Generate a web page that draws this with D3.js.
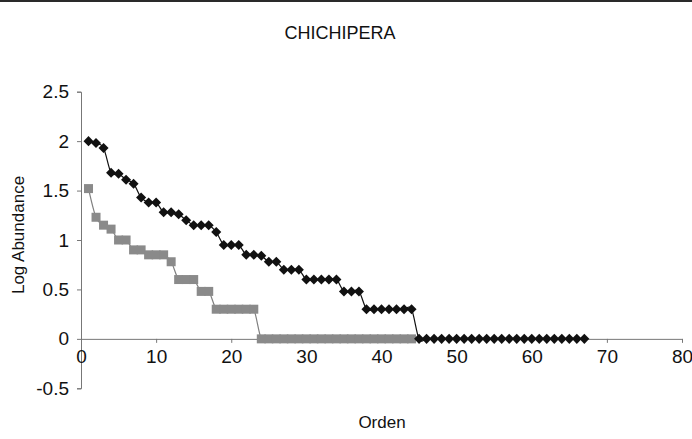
<!DOCTYPE html>
<html>
<head>
<meta charset="utf-8">
<script src="https://cdn.jsdelivr.net/npm/d3@7"></script>
<style>
  body { margin: 0; background: #fff; }
  svg text { font-family: "Liberation Sans", Arial, sans-serif; fill: #111; }
</style>
</head>
<body>
<svg id="chart" width="692" height="439"></svg>
<script>
// log abundance by rank - black diamonds (ranks 1..67)
var blackVals = [2.00, 1.98, 1.93, 1.68, 1.67, 1.61, 1.57, 1.43, 1.38, 1.38,
                 1.28, 1.28, 1.26, 1.20, 1.15, 1.15, 1.15, 1.08, 0.95, 0.95,
                 0.95, 0.85, 0.85, 0.84, 0.78, 0.78, 0.70, 0.70, 0.70, 0.60,
                 0.60, 0.60, 0.60, 0.60, 0.48, 0.48, 0.48, 0.30, 0.30, 0.30,
                 0.30, 0.30, 0.30, 0.30, 0, 0, 0, 0, 0, 0,
                 0, 0, 0, 0, 0, 0, 0, 0, 0, 0,
                 0, 0, 0, 0, 0, 0, 0];
// gray squares (ranks 1..44)
var grayVals = [1.52, 1.23, 1.15, 1.11, 1.00, 1.00, 0.90, 0.90, 0.85, 0.85,
                0.85, 0.78, 0.60, 0.60, 0.60, 0.48, 0.48, 0.30, 0.30, 0.30,
                0.30, 0.30, 0.30, 0, 0, 0, 0, 0, 0, 0,
                0, 0, 0, 0, 0, 0, 0, 0, 0, 0,
                0, 0, 0, 0];
var xTicks = [0, 10, 20, 30, 40, 50, 60, 70, 80];
var yTicks = [-0.5, 0, 0.5, 1, 1.5, 2, 2.5];

var svg = d3.select("#chart");

// top border
svg.append("rect").attr("x", 0).attr("y", 0).attr("width", 692).attr("height", 2).attr("fill", "#2a2a2a");

var x = d3.scaleLinear().domain([0, 80]).range([81, 682]);
var y = d3.scaleLinear().domain([-0.5, 2.5]).range([388.3, 91.7]);

svg.append("text").attr("x", 340).attr("y", 39).attr("text-anchor", "middle")
   .style("font-size", "18px").text("CHICHIPERA");

// y axis
var yAxis = svg.append("g").attr("transform", "translate(" + x(0) + ",0)")
   .call(d3.axisLeft(y).tickValues(yTicks).tickSize(4).tickPadding(8)
         .tickFormat(function(d){ return String(d); }));
yAxis.select(".domain").attr("stroke", "#777");
yAxis.selectAll(".tick line").attr("stroke", "#777");
yAxis.selectAll(".tick text").style("font-size", "19px").attr("fill", "#111");

// x axis crossing at y = 0
var xAxis = svg.append("g").attr("transform", "translate(0," + y(0) + ")")
   .call(d3.axisBottom(x).tickValues(xTicks).tickSize(4).tickPadding(7).tickSizeOuter(0));
xAxis.select(".domain").attr("stroke", "#777");
xAxis.selectAll(".tick line").attr("stroke", "#777");
xAxis.selectAll(".tick text").style("font-size", "19px").attr("fill", "#111");

svg.append("text").attr("transform", "translate(24," + 235 + ") rotate(-90)")
   .attr("text-anchor", "middle").style("font-size", "17px").text("Log Abundance");
svg.append("text").attr("x", 382).attr("y", 428).attr("text-anchor", "middle")
   .style("font-size", "17px").text("Orden");

var line = d3.line()
   .x(function(d, i){ return x(i + 1); })
   .y(function(d){ return y(d); })
   .curve(d3.curveCatmullRom.alpha(0));

// gray series first
svg.append("path").datum(grayVals).attr("d", line)
   .attr("fill", "none").attr("stroke", "#808080").attr("stroke-width", 1.2);
svg.selectAll(".sq").data(grayVals).enter().append("rect")
   .attr("class", "sq")
   .attr("x", function(d, i){ return x(i + 1) - 4.5; })
   .attr("y", function(d){ return y(d) - 4.5; })
   .attr("width", 9).attr("height", 9)
   .attr("fill", "#8a8a8a");

svg.append("path").datum(blackVals).attr("d", line)
   .attr("fill", "none").attr("stroke", "#111").attr("stroke-width", 1.2);
var diamond = d3.symbol().type(d3.symbolDiamond2).size(64);
svg.selectAll(".dm").data(blackVals).enter().append("path")
   .attr("class", "dm")
   .attr("transform", function(d, i){ return "translate(" + x(i + 1) + "," + y(d) + ")"; })
   .attr("d", diamond)
   .attr("fill", "#111");
</script>
</body>
</html>
